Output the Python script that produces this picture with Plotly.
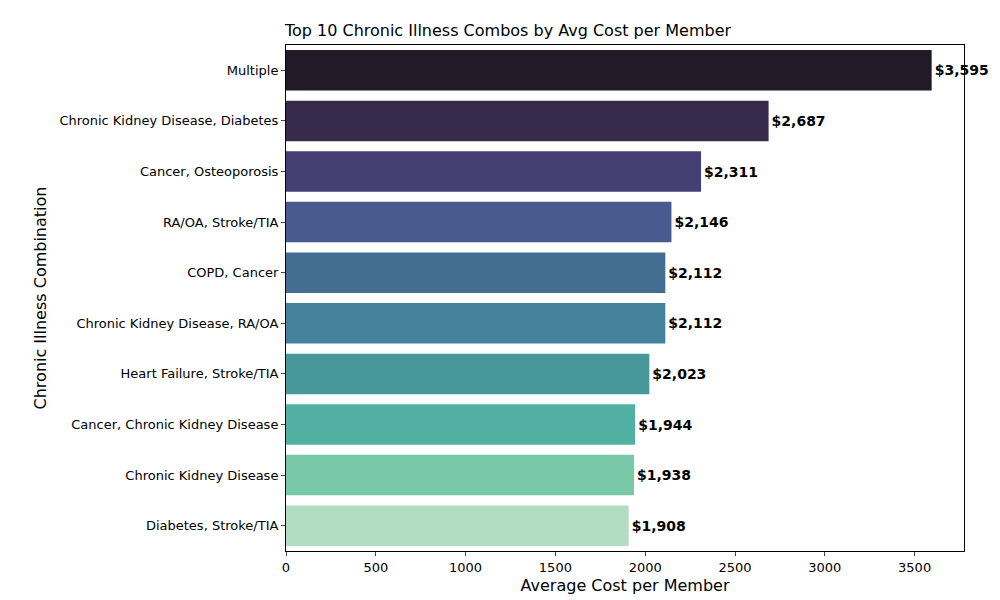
import plotly.graph_objects as go

categories = ["Multiple", "Chronic Kidney Disease, Diabetes", "Cancer, Osteoporosis",
              "RA/OA, Stroke/TIA", "COPD, Cancer", "Chronic Kidney Disease, RA/OA",
              "Heart Failure, Stroke/TIA", "Cancer, Chronic Kidney Disease",
              "Chronic Kidney Disease", "Diabetes, Stroke/TIA"]
values = [3595, 2687, 2311, 2146, 2112, 2112, 2023, 1944, 1938, 1908]
colors = ["#231a28", "#372a4a", "#463f74", "#485a8f", "#436e92",
          "#43829a", "#48979a", "#52b0a2", "#7ac8aa", "#b3ddc2"]
labels = [f"${v:,}" for v in values]

fig = go.Figure(go.Bar(
    x=values, y=categories, orientation="h", marker_color=colors, marker_line_width=0,
    text=labels, textposition="outside", cliponaxis=False,
    textfont=dict(family="DejaVu Sans", size=14, color="black", weight="bold"),
))
fig.update_layout(
    width=1000, height=600, plot_bgcolor="white", paper_bgcolor="white",
    margin=dict(l=278, r=44, t=37, b=57),
    font=dict(family="DejaVu Sans", size=13, color="black"),
    title=dict(text="Top 10 Chronic Illness Combos by Avg Cost per Member",
               x=0.5, xanchor="center", y=0.962, yanchor="middle",
               font=dict(size=16, color="black")),
    bargap=0.2, showlegend=False,
)
fig.update_xaxes(range=[0, 3775], tickvals=list(range(0, 3501, 500)), showgrid=False,
                 showline=True, linecolor="black", mirror=True, ticks="outside",
                 ticklen=4, zeroline=False,
                 title=dict(text="Average Cost per Member", standoff=6))
fig.update_yaxes(autorange="reversed", showgrid=False, showline=True, linecolor="black",
                 mirror=True, ticks="outside", ticklen=4,
                 title=dict(text="Chronic Illness Combination", standoff=8))
fig.write_html("out.html")
